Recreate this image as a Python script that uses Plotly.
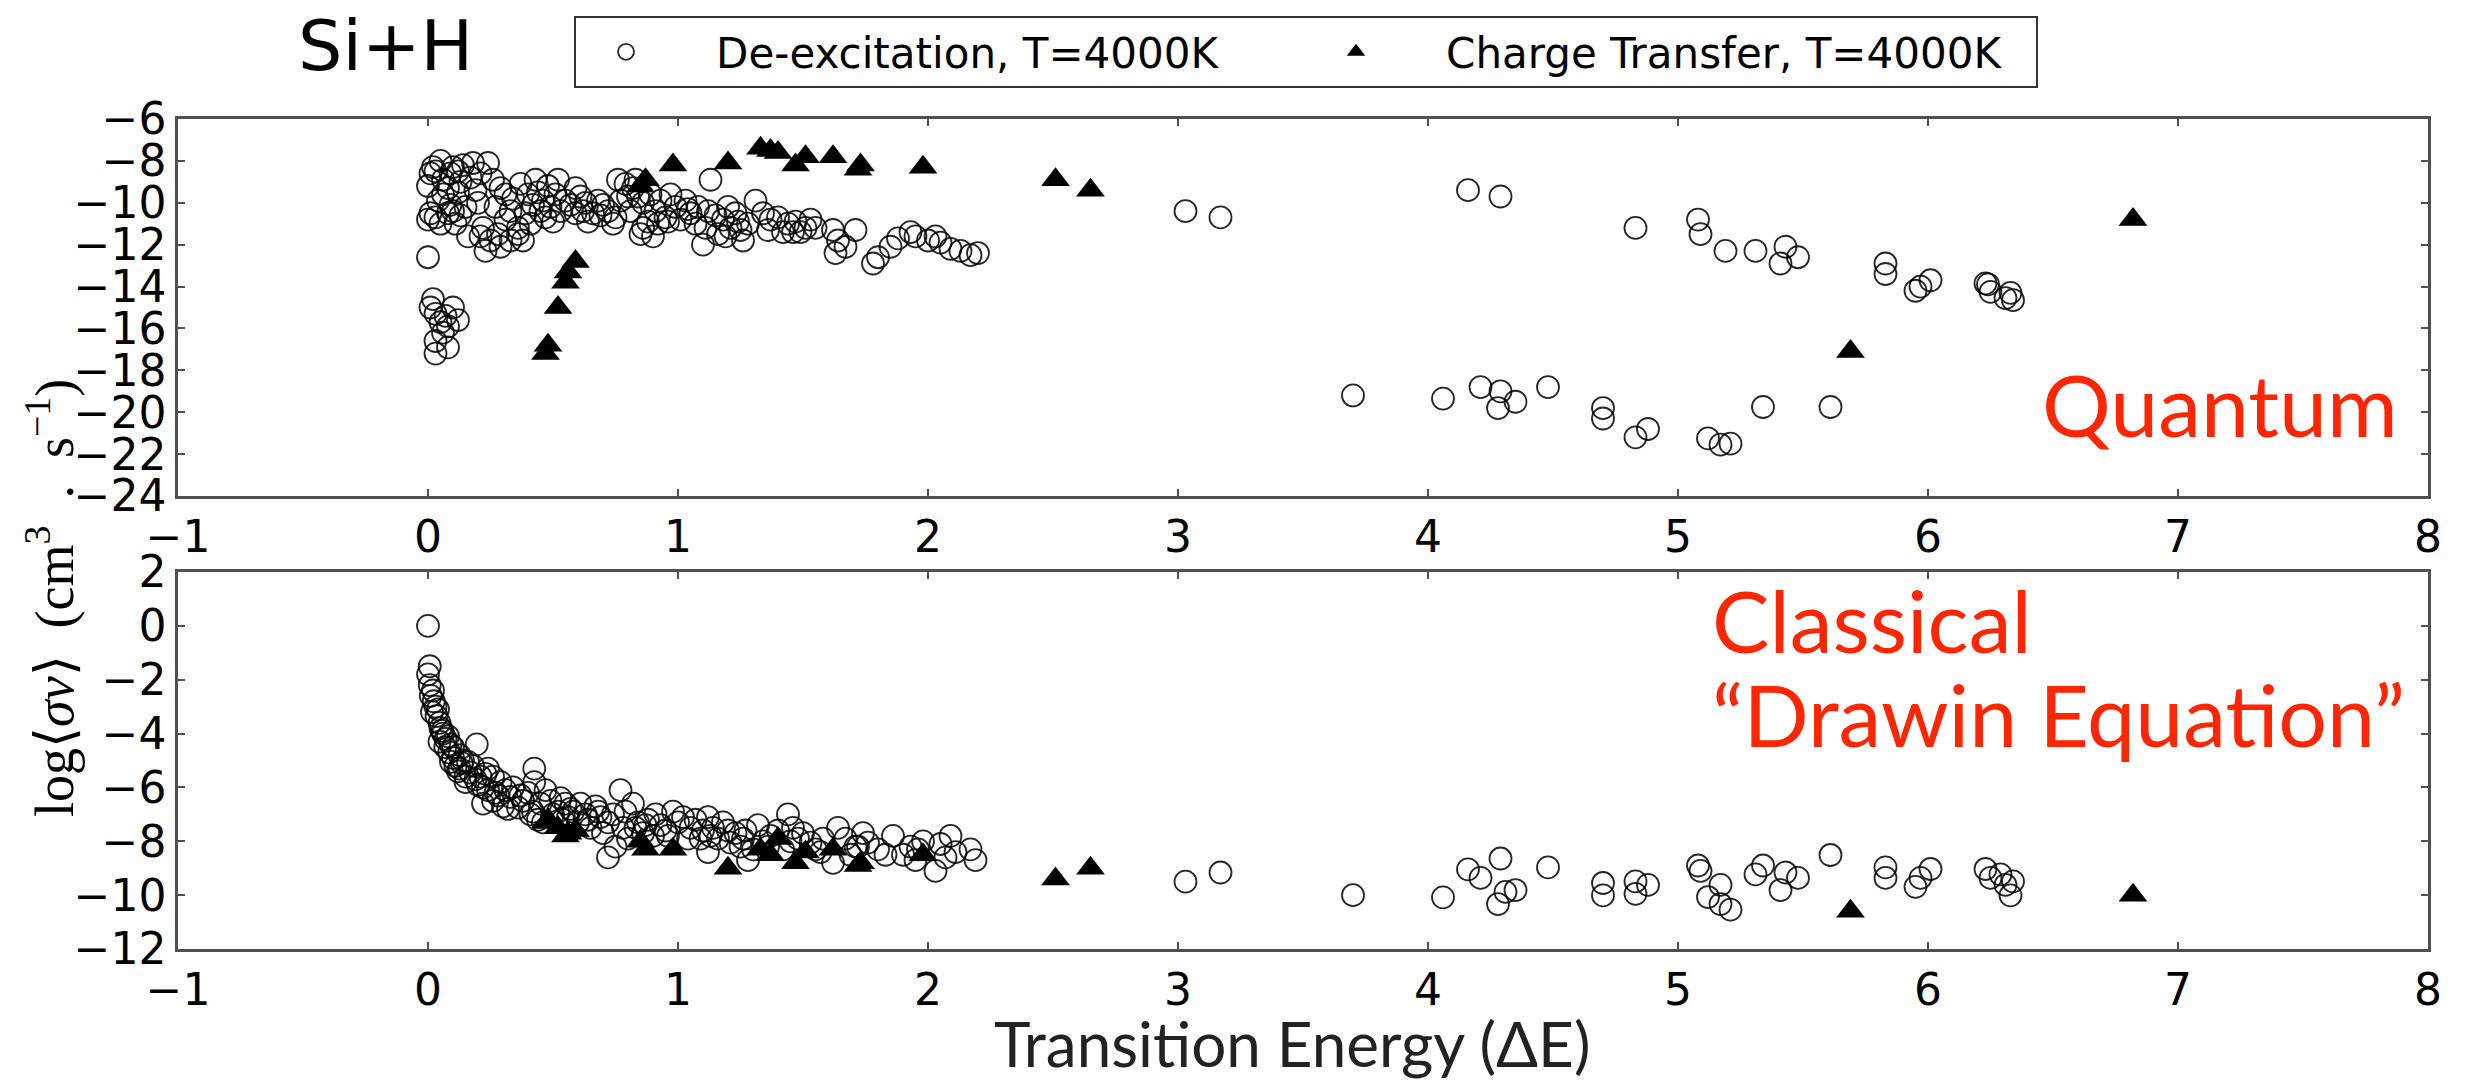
import plotly.graph_objects as go

# ---------------- data ----------------
# Charge transfer (triangles) - same transitions in both panels
ct_x = [0.47, 0.48, 0.52, 0.55, 0.56, 0.59, 0.85, 0.87, 0.98, 1.20, 1.33, 1.37, 1.40,
        1.47, 1.51, 1.62, 1.72, 1.73, 1.98, 2.51, 2.65, 5.69, 6.82]
ct_y_quantum = [-17.2, -16.8, -15.0, -13.8, -13.3, -12.8, -9.2, -8.9, -8.2, -8.1, -7.4, -7.5, -7.6,
                -8.2, -7.8, -7.8, -8.4, -8.2, -8.3, -8.9, -9.4, -17.1, -10.8]
ct_y_classical = [-7.3, -7.2, -7.5, -7.8, -7.7, -7.6, -8.0, -8.3, -8.3, -9.0, -8.3, -8.5, -7.9,
                  -8.8, -8.4, -8.3, -8.9, -8.8, -8.5, -9.4, -9.0, -10.6, -10.0]

# De-excitation (circles), quantum panel
de_x_quantum = [
    0.00, 0.01, 0.02, 0.03, 0.05, 0.06, 0.08, 0.09, 0.10, 0.12, 0.13, 0.14, 0.00, 0.01, 0.03, 0.05,
    0.08, 0.10, 0.11, 0.13, 0.15, 0.06, 0.12,
    0.00,
    0.02, 0.01, 0.03, 0.07, 0.10, 0.05, 0.08, 0.06, 0.03, 0.12, 0.03, 0.08,
    0.18, 0.24, 0.21, 0.26, 0.29, 0.31, 0.22, 0.21, 0.25, 0.29, 0.33, 0.36, 0.31, 0.23, 0.19, 0.27,
    0.33, 0.20, 0.17,
    0.37, 0.40, 0.43, 0.46, 0.48, 0.52, 0.49, 0.45, 0.41, 0.38, 0.36, 0.55, 0.53, 0.47, 0.42, 0.50, 0.39,
    0.59, 0.61, 0.63, 0.68, 0.66, 0.72, 0.77, 0.75, 0.59, 0.79, 0.76, 0.70, 0.64, 0.57, 0.74,
    0.82, 0.84, 0.86, 0.89, 0.91, 0.93, 0.86, 0.85, 0.90, 0.95, 0.99, 0.81, 0.88, 0.97, 0.83,
    1.03, 1.05, 1.08, 1.12, 1.13, 1.10, 1.15, 1.18, 1.21, 1.16, 1.23, 1.25, 1.28, 1.26, 1.01, 1.07, 1.20,
    1.31, 1.37, 1.40, 1.44, 1.47, 1.51, 1.53, 1.55, 1.36, 1.42, 1.49,
    1.62, 1.64, 1.67, 1.71, 1.63, 1.78, 1.80, 1.85, 1.88,
    1.93, 1.95, 2.03, 2.05, 2.09, 2.13, 2.17, 2.00, 2.20,
    3.03, 3.17, 4.16, 4.29, 4.83, 5.08, 5.09, 5.19, 5.31, 5.43, 5.41, 5.48, 5.83, 5.83, 5.95, 6.01,
    5.97, 6.23, 6.25, 6.31, 6.34, 6.24, 6.33,
    3.70, 4.06, 4.21, 4.29, 4.28, 4.35, 4.48, 4.70, 4.70, 4.83, 4.88, 5.12, 5.17, 5.21, 5.34, 5.61,
    0.04, 0.09, 0.16, 0.28, 0.34, 0.44, 0.51, 0.62, 0.69, 0.80, 0.92, 0.96, 1.04, 1.11, 1.19, 1.24, 1.34, 1.46,
]
de_y_quantum = [
    -9.2, -8.6, -8.3, -8.5, -8.0, -8.9, -9.3, -8.6, -8.3, -8.5, -9.0, -8.2, -10.8, -10.5, -10.7, -11.0,
    -10.5, -10.4, -11.0, -10.6, -10.2, -9.6, -9.5,
    -12.6,
    -14.6, -15.0, -15.3, -15.4, -15.0, -15.7, -15.9, -16.2, -16.6, -15.6, -17.2, -16.9,
    -8.1, -8.1, -8.6, -8.9, -9.3, -9.6, -11.2, -11.6, -11.8, -12.1, -11.8, -11.5, -10.8, -12.3, -9.4, -10.2,
    -10.4, -10.0, -8.8,
    -9.1, -9.6, -8.9, -9.9, -9.2, -8.9, -10.2, -10.4, -11.0, -11.8, -11.2, -9.9, -10.4, -10.7, -10.1, -10.9, -10.5,
    -9.3, -9.7, -10.0, -9.9, -10.5, -10.4, -9.9, -10.7, -10.5, -9.1, -8.9, -10.1, -10.9, -10.1, -11.0,
    -9.3, -9.7, -10.0, -9.6, -10.4, -9.9, -11.2, -11.5, -11.6, -10.7, -10.2, -10.4, -10.9, -9.6, -8.9,
    -9.9, -10.5, -10.2, -10.4, -8.9, -12.0, -10.6, -10.8, -11.2, -11.5, -10.5, -11.3, -11.0, -11.8, -10.8, -11.0, -10.2,
    -9.9, -10.8, -10.7, -11.0, -10.9, -11.2, -10.8, -11.2, -11.3, -11.4, -11.4,
    -11.3, -11.8, -12.1, -11.3, -12.4, -12.9, -12.6, -12.1, -11.7,
    -11.4, -11.6, -11.6, -11.9, -12.2, -12.3, -12.5, -11.8, -12.4,
    -10.4, -10.7, -9.4, -9.7, -11.2, -10.8, -11.5, -12.3, -12.3, -12.1, -12.9, -12.6, -12.9, -13.4, -14.2, -13.7,
    -14.0, -13.85, -14.25, -14.55, -14.65, -13.9, -14.3,
    -19.2, -19.35, -18.8, -19.0, -19.8, -19.5, -18.8, -19.8, -20.3, -21.2, -20.8, -21.25, -21.55, -21.5, -19.75, -19.75,
    -9.9, -10.1, -11.6, -11.5, -9.8, -9.5, -9.6, -10.4, -10.6, -9.7, -11.0, -10.9, -10.3, -11.2, -11.6, -10.9, -10.5, -11.4,
]

# De-excitation (circles), classical panel
de_x_classical = [
    0.00, 0.007, 0.00, 0.007, 0.011, 0.023, 0.016, 0.034, 0.046, 0.057, 0.046, 0.08, 0.069, 0.10, 0.126,
    0.092, 0.126, 0.16, 0.195, 0.17, 0.21, 0.24, 0.26, 0.29, 0.31, 0.24, 0.22, 0.26, 0.33, 0.36,
    0.425, 0.425, 0.40, 0.45, 0.47, 0.49, 0.52, 0.55, 0.56, 0.61, 0.63, 0.68, 0.72, 0.70, 0.77,
    0.79, 0.82, 0.75, 0.72, 0.84, 0.86, 0.91, 0.93, 0.98, 1.02, 1.05, 1.09, 1.12, 1.14, 1.16,
    1.12, 1.18, 1.21, 1.25, 1.28, 1.32, 1.37, 1.44, 1.46, 1.48, 1.53, 1.64, 1.67, 1.62, 1.71,
    1.76, 1.80, 1.86, 1.93, 1.95, 2.03, 2.05, 2.09, 2.11, 2.17, 2.19,
    0.03, 0.06, 0.09, 0.11, 0.14, 0.15, 0.18, 0.20, 0.23, 0.28, 0.30, 0.34, 0.38, 0.42, 0.44,
    0.50, 0.53, 0.58, 0.60, 0.65, 0.67, 0.74, 0.78, 0.80, 0.88, 0.90, 0.95, 1.00, 1.04, 1.07,
    1.10, 1.20, 1.23, 1.27, 1.30, 1.34, 1.40, 1.42, 1.50, 1.55, 1.58, 1.69, 1.74, 1.83, 1.90, 1.98,
    0.02, 0.04, 0.05, 0.07, 0.085, 0.10, 0.12, 0.135, 0.15, 0.19, 0.22, 0.27, 0.32, 0.37, 0.41,
    0.46, 0.54, 0.57, 0.64, 0.69, 0.83, 0.87, 0.96, 1.13, 1.26, 1.36, 1.45, 1.57, 1.72, 1.96, 2.07,
    3.03, 3.17, 3.70, 4.06, 4.16, 4.21, 4.29, 4.28, 4.31, 4.35, 4.48, 4.70, 4.70, 4.83, 4.83,
    4.88, 5.08, 5.09, 5.12, 5.17, 5.17, 5.21, 5.31, 5.34, 5.41, 5.43, 5.48, 5.61, 5.83, 5.83,
    5.95, 5.97, 6.01, 6.23, 6.25, 6.29, 6.31, 6.33, 6.34,
]
de_y_classical = [
    0.0, -1.5, -1.8, -2.2, -2.6, -2.8, -3.2, -3.35, -3.6, -3.9, -4.3, -4.1, -4.5, -4.5, -4.8,
    -5.05, -5.3, -5.05, -4.4, -5.45, -5.6, -5.3, -5.6, -5.8, -6.1, -6.1, -6.6, -6.5, -6.35, -6.75,
    -5.3, -5.8, -6.2, -6.6, -6.1, -6.5, -6.9, -6.6, -7.1, -6.6, -7.0, -6.9, -7.3, -7.7, -6.1,
    -6.9, -6.6, -8.2, -8.6, -7.3, -7.7, -7.0, -7.4, -6.9, -7.1, -7.5, -7.9, -7.1, -7.5, -7.9,
    -8.4, -7.3, -8.05, -8.2, -8.7, -7.4, -7.8, -7.0, -7.5, -7.9, -8.05, -7.5, -7.9, -8.8, -8.2,
    -8.05, -8.3, -7.8, -8.2, -8.7, -9.1, -8.1, -7.8, -8.4, -8.3, -8.7,
    -3.0, -4.0, -4.4, -5.2, -5.0, -5.6, -5.2, -5.9, -5.5, -6.3, -6.7, -6.0, -6.5, -6.9, -7.2,
    -7.0, -6.4, -6.9, -7.3, -7.5, -6.7, -7.0, -7.5, -7.9, -7.2, -7.8, -7.6, -7.3, -7.9, -7.2,
    -7.6, -7.6, -7.7, -7.6, -8.3, -8.0, -7.6, -8.3, -7.7, -8.3, -7.9, -8.5, -7.7, -8.5, -8.5, -8.0,
    -2.4, -3.1, -3.8, -4.2, -4.7, -4.9, -5.4, -5.1, -5.8, -5.7, -6.0, -6.2, -6.8, -6.3, -7.0,
    -7.3, -7.2, -6.8, -7.2, -7.1, -7.5, -7.4, -7.8, -7.8, -7.9, -8.2, -8.0, -8.4, -8.2, -8.3, -8.6,
    -9.5, -9.16, -10.0, -10.08, -9.04, -9.36, -8.64, -10.33, -9.88, -9.81, -8.97, -9.55, -10.01, -9.49, -9.95,
    -9.62, -8.9, -9.1, -10.07, -9.62, -10.33, -10.54, -9.23, -8.9, -9.81, -9.16, -9.36, -8.51, -8.97, -9.36,
    -9.69, -9.36, -9.03, -9.03, -9.36, -9.23, -9.62, -10.01, -9.49,
]

x_ticks = [-1, 0, 1, 2, 3, 4, 5, 6, 7, 8]
y_ticks_quantum = [-6, -8, -10, -12, -14, -16, -18, -20, -22, -24]
y_ticks_classical = [2, 0, -2, -4, -6, -8, -10, -12]

legend_names = ["De-excitation, T=4000K", "Charge Transfer, T=4000K"]

# ---------------- figure ----------------
W, H = 2467, 1080
ML, MR, MT, MB = 178, 39, 119, 131
plot_h = H - MT - MB

circle_marker = dict(symbol="circle-open", size=22, color="rgba(0,0,0,0.85)",
                     line=dict(width=1.8, color="rgba(0,0,0,0.85)"))
tri_marker = dict(symbol="triangle-up", size=25, color="black", line=dict(width=0))

pad = "\u00a0\u00a0\u00a0"
fig = go.Figure()
fig.add_trace(go.Scatter(x=de_x_quantum, y=de_y_quantum, mode="markers", marker=circle_marker,
                         name=pad + legend_names[0], xaxis="x", yaxis="y", showlegend=True))
fig.add_trace(go.Scatter(x=ct_x, y=ct_y_quantum, mode="markers", marker=tri_marker,
                         name=pad + legend_names[1], xaxis="x", yaxis="y", showlegend=True))
fig.add_trace(go.Scatter(x=de_x_classical, y=de_y_classical, mode="markers", marker=circle_marker,
                         name=legend_names[0], xaxis="x2", yaxis="y2", showlegend=False))
fig.add_trace(go.Scatter(x=ct_x, y=ct_y_classical, mode="markers", marker=tri_marker,
                         name=legend_names[1], xaxis="x2", yaxis="y2", showlegend=False))

tick_font = dict(family="DejaVu Sans", size=44, color="black")
axis_common = dict(showline=True, linecolor="#505050", linewidth=2.5, mirror="ticks",
                   ticks="inside", ticklen=7, tickwidth=1.5, tickcolor="#505050",
                   showgrid=False, zeroline=False, tickfont=tick_font)

top_bottom = (H - MB - 496) / plot_h
bot_top = (H - MB - 572) / plot_h

fig.update_layout(
    width=W, height=H,
    margin=dict(l=ML, r=MR, t=MT, b=MB, autoexpand=False),
    paper_bgcolor="white", plot_bgcolor="white",
    xaxis=dict(domain=[0, 1], anchor="y", range=[-1, 8], tickvals=x_ticks, **axis_common),
    yaxis=dict(domain=[top_bottom, 1], anchor="x", range=[-24, -6], tickvals=y_ticks_quantum,
               **axis_common),
    xaxis2=dict(domain=[0, 1], anchor="y2", range=[-1, 8], tickvals=x_ticks, **axis_common),
    yaxis2=dict(domain=[0, bot_top], anchor="x2", range=[-12, 2], tickvals=y_ticks_classical,
                **axis_common),
    showlegend=True,
    legend=dict(orientation="h", x=(574 - ML) / 2250, y=(H - MB - 16) / plot_h,
                xanchor="left", yanchor="top", bordercolor="#333333", borderwidth=2,
                bgcolor="white", font=dict(family="DejaVu Sans", size=42, color="black"),
                entrywidth=625, itemwidth=90),
)

red = "#ff2600"
label_font = dict(family="Lato", size=86, color=red)
fig.add_annotation(x=7.888, y=-19.6, xref="x", yref="y", text="Quantum", showarrow=False,
                   xanchor="right", yanchor="middle", font=label_font)
fig.add_annotation(x=5.128, y=0.25, xref="x2", yref="y2", text="Classical", showarrow=False,
                   xanchor="left", yanchor="middle", font=label_font)
fig.add_annotation(x=5.128, y=-3.25, xref="x2", yref="y2", text="“Drawin Equation”",
                   showarrow=False, xanchor="left", yanchor="middle", font=label_font)

fig.add_annotation(x=(385 - ML) / 2250, y=(H - MB - 46) / plot_h, xref="paper", yref="paper",
                   text="Si+H", showarrow=False, xanchor="center", yanchor="middle",
                   font=dict(family="DejaVu Sans", size=70, color="black"))

fig.add_annotation(x=(1292 - ML) / 2250, y=(H - MB - 1043) / plot_h, xref="paper", yref="paper",
                   text="Transition Energy (ΔE)", showarrow=False, xanchor="center",
                   yanchor="middle", font=dict(family="Lato", size=62, color="#222222"))

fig.add_annotation(x=(50 - ML) / 2250, y=(H - MB - 598) / plot_h, xref="paper", yref="paper",
                   text="log⟨<i>σν</i>⟩\u00a0\u00a0(cm<sup>3</sup>\u00a0\u00a0.\u00a0\u00a0s<sup>−1</sup>)",
                   showarrow=False, textangle=-90, xanchor="center", yanchor="middle",
                   font=dict(family="Liberation Serif", size=54, color="black"))

fig.write_html("out.html")
